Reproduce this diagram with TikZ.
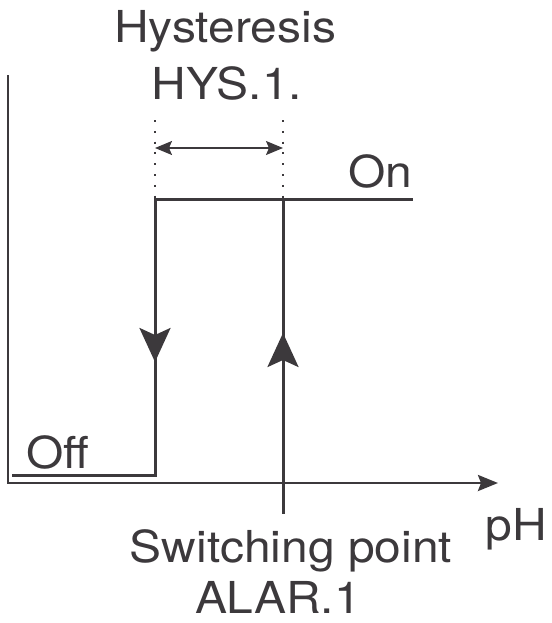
\documentclass[tikz,border=0pt]{standalone}
\usepackage{fontspec}
\setmainfont[FakeStretch=1.09]{TeX Gyre Heros}
\usetikzlibrary{arrows.meta}
\definecolor{ink}{RGB}{60,57,60}
\begin{document}
\begin{tikzpicture}[x=1pt,y=-1pt,ink,
    lbl/.style={inner sep=0pt,anchor=base,text=ink,font=\fontsize{44}{54}\selectfont},
    curve/.style={line width=3pt},
    bigtip/.style={line width=3pt,-{Stealth[length=34pt,width=31pt,inset=7pt]}},
    guide/.style={line width=2pt,dash pattern=on 2pt off 8.8pt}]
    \useasboundingbox (0,0) rectangle (551,623);
    % points of the loop
    \coordinate (o) at (8,483);
    \coordinate (ytop) at (8,76);
    \coordinate (xend) at (498,483);
    \coordinate (offL) at (12,475);
    \coordinate (offR) at (155,475);
    \coordinate (onL) at (155,199);
    \coordinate (onR) at (413,199);
    \coordinate (swB) at (283,483);
    \coordinate (swT) at (283,199);
    \coordinate (tick) at (283,514);
    \coordinate (gL) at (155,120);
    \coordinate (gR) at (283,120);
    \coordinate (hL) at (155,148);
    \coordinate (hR) at (283,148);
    % axes
    \draw[line width=2.6pt,line cap=rect] (ytop)--(o);
    \draw[line width=2.6pt,-{Stealth[length=20pt,width=16pt,inset=3pt]}] (o)--(xend);
    \draw[line width=3pt] (swB)--(tick);
    % hysteresis loop
    \draw[curve] (offL)--(offR)--(onL)--(onR);
    \draw[curve] (swB)--(swT);
    \draw[bigtip] (onL)--(155,362);
    \draw[bigtip] (swB)--(283,333);
    % hysteresis width
    \draw[guide] (gL)--(onL);
    \draw[guide] (gR)--(swT);
    \draw[line width=1.6pt,{Stealth[length=17pt,width=14pt,inset=3pt]}-{Stealth[length=17pt,width=14pt,inset=3pt]}] (hL)--(hR);
    % labels
    \node[lbl] (hys) at (225,43) {Hysteresis};
    \node[lbl] (hysv) at (227,100) {HYS.1.};
    \node[lbl] (on) at (380,187) {On};
    \node[lbl] (off) at (58,468) {Off};
    \node[lbl] (ph) at (516,540) {pH};
    \node[lbl] (sw) at (291,562) {Switching point};
    \node[lbl] (swv) at (278,613) {ALAR.1};
\end{tikzpicture}
\end{document}
